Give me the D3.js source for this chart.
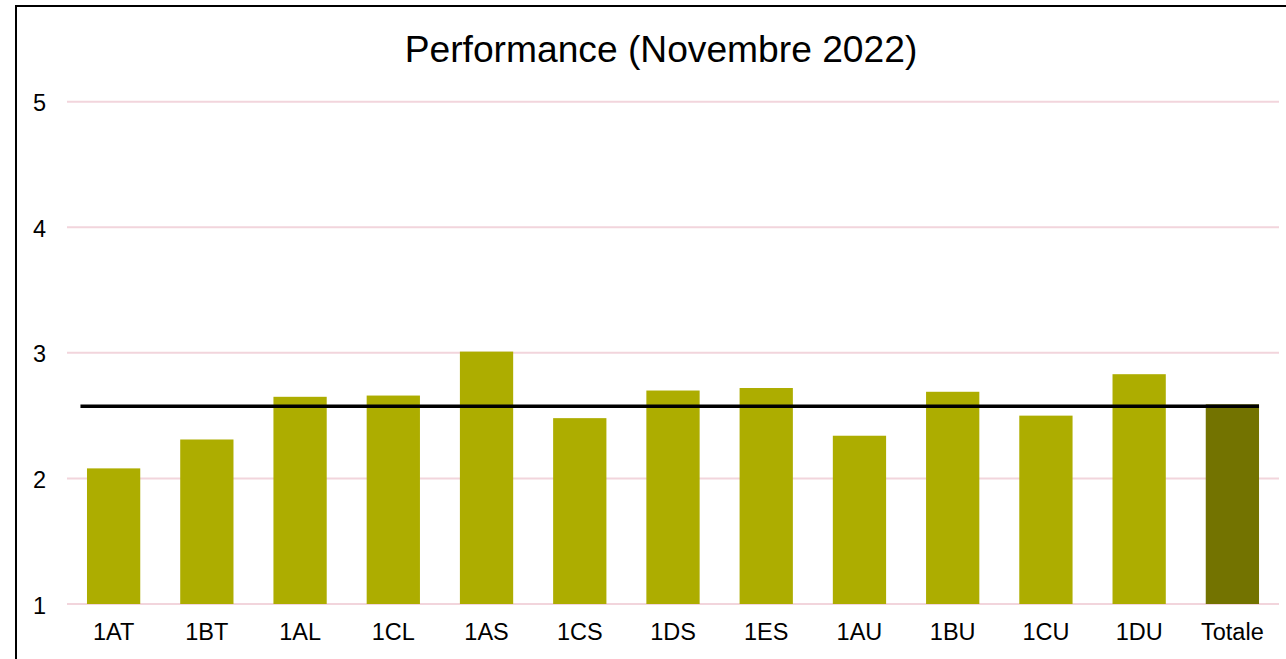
<!DOCTYPE html>
<html>
<head>
<meta charset="utf-8">
<script src="https://cdn.jsdelivr.net/npm/d3@7"></script>
<style>
  html, body { margin: 0; padding: 0; background: #fff; }
  svg { display: block; font-family: "Liberation Sans", Arial, sans-serif; }
</style>
</head>
<body>
<svg id="chart" width="1286" height="659"></svg>
<script>
const categories = ["1AT","1BT","1AL","1CL","1AS","1CS","1DS","1ES","1AU","1BU","1CU","1DU","Totale"];
const values = [2.08, 2.31, 2.65, 2.66, 3.01, 2.48, 2.70, 2.72, 2.34, 2.69, 2.50, 2.83, 2.59];
const averageValue = 2.575;
const yTicks = [1, 2, 3, 4, 5];
const titleText = "Performance (Novembre 2022)";

const svg = d3.select("#chart");
const W = 1286, H = 659;
const plot = { left: 67, right: 1279, top: 101.7, bottom: 604 };

const x = d3.scaleBand()
  .domain(categories)
  .range([plot.left, plot.right])
  .paddingInner(0.4286)
  .paddingOuter(0.2143);

const y = d3.scaleLinear()
  .domain([1, 5])
  .range([plot.bottom, plot.top]);

// chart border (left & top visible)
svg.append("path")
  .attr("d", `M16,${H + 5} V6 H${W + 5}`)
  .attr("fill", "none")
  .attr("stroke", "#000")
  .attr("stroke-width", 2);

// title
svg.append("text")
  .attr("x", 661)
  .attr("y", 62)
  .attr("text-anchor", "middle")
  .attr("font-size", 37.2)
  .attr("fill", "#000")
  .text(titleText);

// gridlines
svg.append("g")
  .selectAll("line")
  .data(yTicks)
  .join("line")
  .attr("x1", plot.left)
  .attr("x2", plot.right)
  .attr("y1", d => y(d))
  .attr("y2", d => y(d))
  .attr("stroke", "#f2d5dc")
  .attr("stroke-width", 2);

// y axis labels
const yAxis = d3.axisLeft(y).tickValues(yTicks).tickSize(0).tickPadding(0).tickFormat(d3.format("d"));
const yg = svg.append("g").attr("transform", `translate(46,1.5)`).call(yAxis);
yg.select(".domain").remove();
yg.selectAll("text").attr("font-size", 23.5).attr("fill", "#000").attr("font-family", "Liberation Sans, Arial, sans-serif");

// bars
svg.append("g")
  .selectAll("rect")
  .data(categories.map((c, i) => ({ c, v: values[i] })))
  .join("rect")
  .attr("x", d => x(d.c))
  .attr("width", x.bandwidth())
  .attr("y", d => y(d.v))
  .attr("height", d => y(1) - y(d.v))
  .attr("fill", d => d.c === "Totale" ? "#737300" : "#adad00");

// x axis labels
const xAxis = d3.axisBottom(x).tickSize(0).tickPadding(0);
const xg = svg.append("g").attr("transform", `translate(0,${plot.bottom + 19})`).call(xAxis);
xg.select(".domain").remove();
xg.selectAll("text").attr("font-size", 23.5).attr("fill", "#000").attr("font-family", "Liberation Sans, Arial, sans-serif");

// average line
svg.append("line")
  .attr("x1", x(categories[0]) - x.step() * 0.07)
  .attr("x2", x(categories[categories.length - 1]) + x.bandwidth())
  .attr("y1", y(averageValue))
  .attr("y2", y(averageValue))
  .attr("stroke", "#000")
  .attr("stroke-width", 3.5);
</script>
</body>
</html>
